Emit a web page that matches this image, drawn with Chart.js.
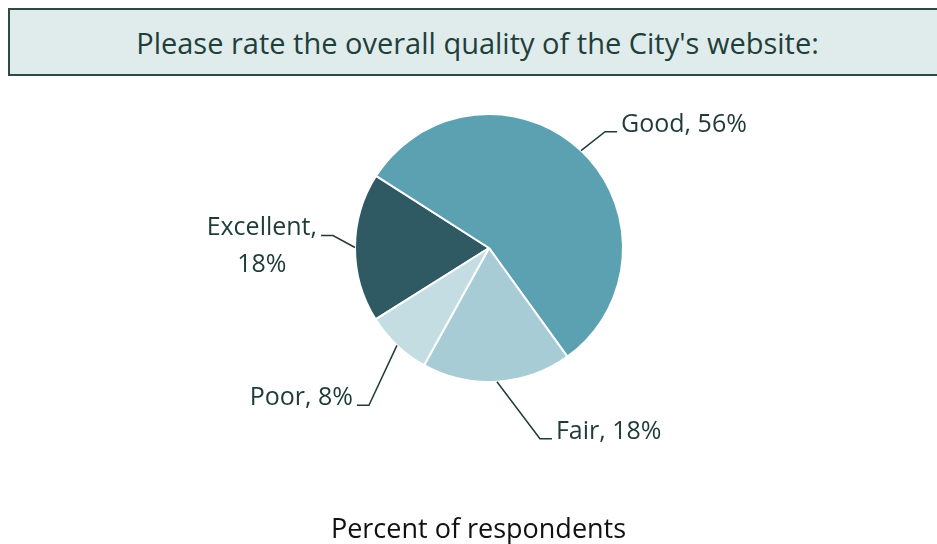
<!DOCTYPE html>
<html lang="en">
<head>
    <meta charset="UTF-8">
    <title>City website rating</title>
    <script src="https://cdn.jsdelivr.net/npm/chart.js"></script>
    <style>
        body {
            margin: 0;
            background: #ffffff;
            width: 937px;
            height: 544px;
            position: relative;
            overflow: hidden;
            font-family: "Open Sans", "Noto Sans", sans-serif;
        }
        .title-box {
            position: absolute;
            left: 8px;
            top: 8px;
            width: 927px;
            height: 64px;
            background: #e0ecec;
            border: 2px solid #2d4a44;
            box-sizing: content-box;
            color: #213f3a;
            font-size: 29px;
            line-height: 66px;
            text-align: center;
            padding-left: 0;
            text-indent: 8px;
        }
        .footer {
            position: absolute;
            left: 10px;
            width: 937px;
            top: 509px;
            text-align: center;
            font-size: 27px;
            color: #111;
        }
        #pie {
            position: absolute;
            left: 0;
            top: 0;
        }
    </style>
</head>
<body>
    <div class="title-box">Please rate the overall quality of the City's website:</div>
    <canvas id="pie" width="937" height="544"></canvas>
    <div class="footer">Percent of respondents</div>

    <script>
        // data
        const categories = ['Excellent', 'Good', 'Fair', 'Poor'];
        const percents = [18, 56, 18, 8];
        const sliceColors = ['#2f5963', '#5ba1b2', '#a8ccd6', '#c4dde2'];

        // leader line elbows, relative to slice edge point (dx, dy, tail direction)
        const elbows = [
            { dx: -22, dy: -12, dir: -1 },
            { dx: 24, dy: -19, dir: 1 },
            { dx: 43, dy: 57, dir: 1 },
            { dx: -28, dy: 60, dir: -1 }
        ];

        const leaderLabels = {
            id: 'leaderLabels',
            afterDatasetsDraw(chart) {
                const ctx = chart.ctx;
                const meta = chart.getDatasetMeta(0);
                ctx.save();
                ctx.strokeStyle = '#1f3b38';
                ctx.lineWidth = 1.5;
                ctx.fillStyle = '#1f3b38';
                ctx.font = '25px "Open Sans", "Noto Sans", sans-serif';
                ctx.textBaseline = 'middle';
                meta.data.forEach(function (arc, i) {
                    const mid = (arc.startAngle + arc.endAngle) / 2;
                    const x0 = arc.x + Math.cos(mid) * arc.outerRadius;
                    const y0 = arc.y + Math.sin(mid) * arc.outerRadius;
                    const e = elbows[i];
                    const x1 = x0 + e.dx;
                    const y1 = y0 + e.dy;
                    const x2 = x1 + e.dir * 12;
                    ctx.beginPath();
                    ctx.moveTo(x0, y0);
                    ctx.lineTo(x1, y1);
                    ctx.lineTo(x2, y1);
                    ctx.stroke();
                    const text = categories[i] + ', ' + percents[i] + '%';
                    const tx = x2 + e.dir * 4;
                    if (categories[i] === 'Excellent') {
                        // wrapped over two lines
                        ctx.textAlign = 'right';
                        ctx.fillText(categories[i] + ',', tx, y1 - 8);
                        const w = ctx.measureText(categories[i] + ',').width;
                        ctx.textAlign = 'center';
                        ctx.fillText(percents[i] + '%', tx - w / 2, y1 + 29);
                    } else {
                        ctx.textAlign = e.dir < 0 ? 'right' : 'left';
                        ctx.fillText(text, tx, y1 - 7);
                    }
                });
                ctx.restore();
            }
        };

        new Chart(document.getElementById('pie'), {
            type: 'pie',
            data: {
                labels: categories,
                datasets: [{
                    data: percents,
                    backgroundColor: sliceColors,
                    borderColor: '#ffffff',
                    borderWidth: 2
                }]
            },
            options: {
                responsive: false,
                animation: false,
                rotation: -122.2,
                layout: {
                    padding: { left: 354, right: 313, top: 113, bottom: 161 }
                },
                plugins: {
                    legend: { display: false },
                    tooltip: { enabled: false }
                }
            },
            plugins: [leaderLabels]
        });
    </script>
</body>
</html>
